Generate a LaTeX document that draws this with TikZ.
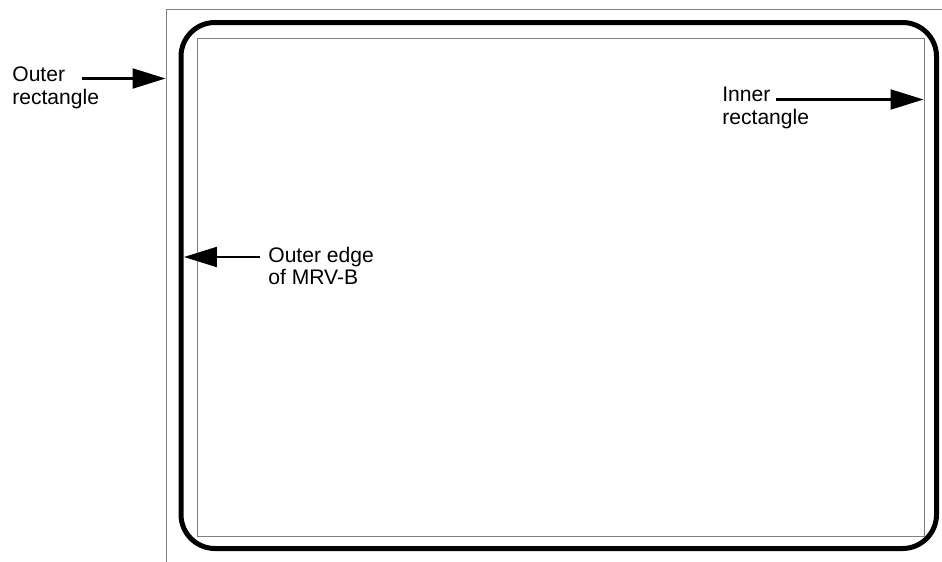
\documentclass[tikz,border=0pt]{standalone}
\usepackage{fontspec}
\setmainfont{Liberation Sans}
\usetikzlibrary{arrows.meta}
\tikzstyle{lbl} = [anchor=base west, inner sep=0pt, font=\fontsize{12}{13.5}\selectfont]
\tikzstyle{ptr} = [line width=0.045cm, -{Triangle[length=0.66cm, width=0.4cm]}]
\tikzstyle{frame} = [draw=gray, line width=0.02cm]

\begin{document}
\begin{tikzpicture}[x=0.02cm, y=-0.02cm]
  \clip (0,0) rectangle (942,561);

  % rectangles
  \draw[frame] (166.5,9.5) rectangle (990,600);
  \draw[line width=0.1cm, rounded corners=0.68cm] (181,22.5) rectangle (936.5,548.5);
  \draw[frame] (197,38) rectangle (924.5,536);

  % labels
  \node[lbl] (outerA) at (12,81.7) {Outer};
  \node[lbl] (outerB) at ([yshift=-12.8pt]outerA.base west) {rectangle};
  \node[lbl] (innerA) at (722,101.7) {Inner};
  \node[lbl] (innerB) at ([yshift=-12.8pt]innerA.base west) {rectangle};
  \node[lbl] (edgeA) at (268,262.3) {Outer edge};
  \node[lbl] (edgeB) at ([yshift=-12.8pt]edgeA.base west) {of MRV-B};

  \coordinate (outerTip) at (165.5,78.5);
  \coordinate (innerTip) at (923.5,99.5);
  \coordinate (edgeTip) at (184,257);

  \draw[ptr] ([shift={(17,-3.2)}]outerA.base east) -- (outerTip);
  \draw[ptr] ([shift={(5,-2.2)}]innerA.base east) -- (innerTip);
  \draw[ptr] ([shift={(-8,-5.3)}]edgeA.base west) -- (edgeTip);
\end{tikzpicture}
\end{document}
